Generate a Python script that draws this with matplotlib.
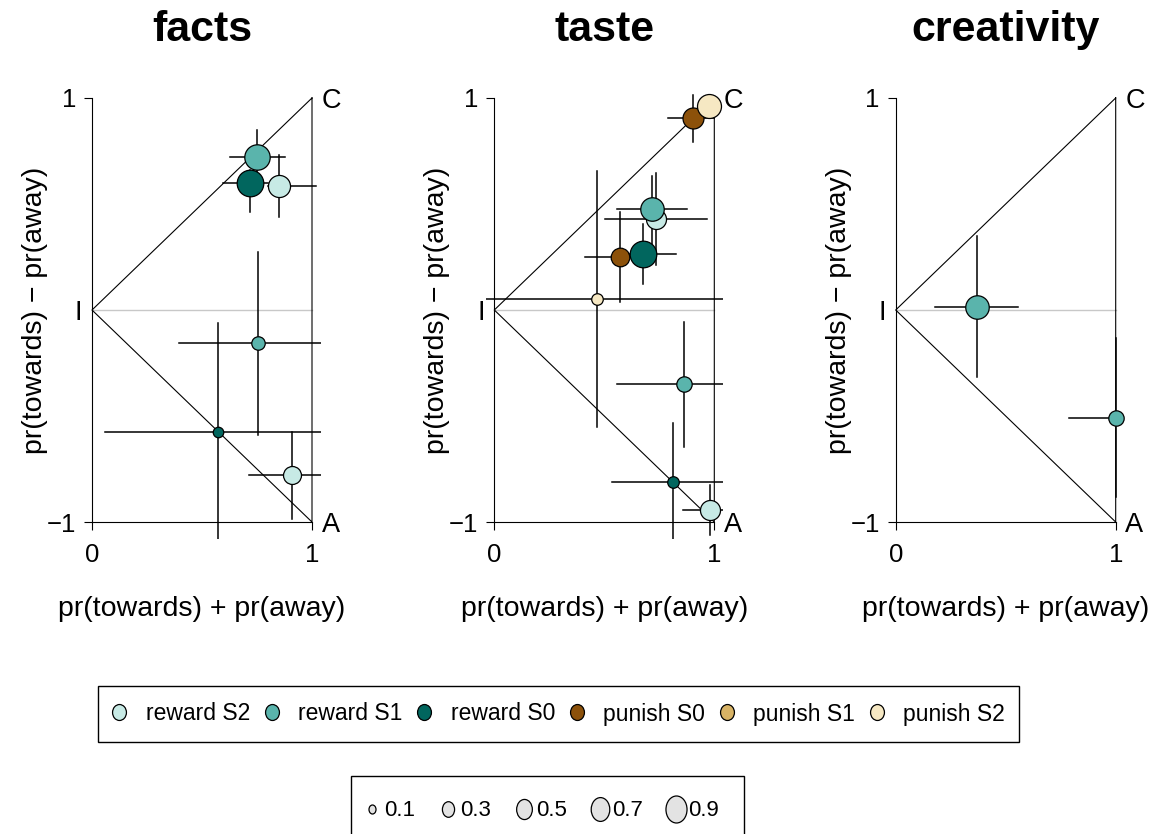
import numpy as np
import matplotlib.pyplot as plt
from matplotlib.lines import Line2D
from matplotlib.patches import Rectangle
from matplotlib.path import Path
from matplotlib.transforms import Affine2D

plt.rcParams['font.family'] = ['Liberation Sans', 'DejaVu Sans']

domains = ['facts', 'taste', 'creativity']
groups = ['reward S2', 'reward S1', 'reward S0', 'punish S0', 'punish S1', 'punish S2']
group_colors = ['#c7eae5', '#5ab4ac', '#01665e', '#8c510a', '#d8b365', '#f6e8c3']
size_levels = [0.1, 0.3, 0.5, 0.7, 0.9]

# one row per estimate: domain, group, x, y, x low/high, y low/high, weight
pt_domain = ['facts'] * 6 + ['taste'] * 10 + ['creativity'] * 2
pt_group = ['reward S1', 'reward S0', 'reward S2', 'reward S1', 'reward S0', 'reward S2',
            'reward S0', 'reward S1', 'reward S2', 'reward S0', 'reward S1', 'reward S2',
            'punish S0', 'punish S0', 'punish S2', 'punish S2',
            'reward S1', 'reward S1']
pt_x = [0.752, 0.718, 0.849, 0.755, 0.571, 0.910,
        0.674, 0.718, 0.736, 0.812, 0.861, 0.981,
        0.571, 0.905, 0.465, 0.978,
        0.368, 1.000]
pt_y = [0.720, 0.598, 0.585, -0.157, -0.574, -0.780,
        0.264, 0.475, 0.429, -0.813, -0.349, -0.943,
        0.251, 0.907, 0.052, 0.962,
        0.014, -0.511]
pt_xlo = [0.626, 0.597, 0.798, 0.394, 0.059, 0.714,
          0.550, 0.558, 0.503, 0.533, 0.558, 0.858,
          0.410, 0.790, -0.100, 0.950,
          0.178, 0.787]
pt_xhi = [0.877, 0.798, 1.018, 1.100, 1.100, 1.100,
          0.826, 0.877, 0.969, 1.100, 1.100, 1.100,
          0.700, 0.998, 1.100, 1.000,
          0.558, 1.020]
pt_ylo = [0.600, 0.464, 0.440, -0.590, -1.200, -0.987,
          0.123, 0.300, 0.212, -1.200, -0.645, -1.060,
          0.039, 0.794, -0.553, 0.930,
          -0.317, -0.880]
pt_yhi = [0.850, 0.660, 0.731, 0.275, -0.063, -0.574,
          0.406, 0.630, 0.645, -0.532, -0.055, -0.825,
          0.461, 1.014, 0.657, 1.000,
          0.349, -0.134]
pt_w = [0.82, 0.90, 0.62, 0.23, 0.14, 0.41,
        0.90, 0.70, 0.51, 0.17, 0.30, 0.51,
        0.44, 0.56, 0.17, 0.73,
        0.70, 0.30]

W, H = 1159, 834
fig = plt.figure(figsize=(W / 100, H / 100), dpi=100)

lefts = [83.2, 485.5, 886.9]
for k, dom in enumerate(domains):
    ax = fig.add_axes([lefts[k] / W, 1 - 539 / H, 237.6 / W, 458 / H])
    ax.set_xlim(-0.04, 1.04)
    ax.set_ylim(-1.08, 1.08)

    # triangle and the zero line
    ax.plot([0, 1], [0, 0], color='#c8c8c8', lw=1.0, zorder=1)
    ax.plot([1, 0, 1, 1], [1, 0, -1, 1], color='black', lw=0.8, zorder=1)

    idx = [i for i in range(len(pt_x)) if pt_domain[i] == dom]
    for i in idx:
        ax.plot([pt_xlo[i], pt_xhi[i]], [pt_y[i], pt_y[i]], color='black', lw=1.1, zorder=2)
        ax.plot([pt_x[i], pt_x[i]], [pt_ylo[i], pt_yhi[i]], color='black', lw=1.1, zorder=2)
    for g in groups:
        for i in idx:
            if pt_group[i] != g:
                continue
            ax.plot(pt_x[i], pt_y[i], 'o', ms=20.2 * np.sqrt(pt_w[i]),
                    mfc=group_colors[groups.index(g)], mec='black', mew=0.9,
                    zorder=3, clip_on=False)

    for s in ['top', 'right']:
        ax.spines[s].set_visible(False)
    ax.spines['left'].set_position(('data', 0))
    ax.spines['bottom'].set_position(('data', -1))
    ax.spines['left'].set_bounds(-1, 1)
    ax.spines['bottom'].set_bounds(0, 1)
    ax.spines['left'].set_linewidth(0.8)
    ax.spines['bottom'].set_linewidth(0.8)
    ax.set_xticks([0, 1])
    ax.set_xticklabels(['0', '1'])
    ax.set_yticks([-1, 1])
    ax.set_yticklabels(['\u22121', '1'])
    ax.tick_params(direction='out', length=5.5, width=0.8, labelsize=18.5)
    ax.tick_params(axis='y', pad=6)
    ax.tick_params(axis='x', pad=9.5)

    ax.annotate('C', (1, 1), xytext=(7, 0), textcoords='offset points',
                ha='left', va='center_baseline', fontsize=19.5)
    ax.annotate('A', (1, -1), xytext=(7, 0), textcoords='offset points',
                ha='left', va='center_baseline', fontsize=19.5)
    ax.annotate('I', (0, 0), xytext=(-7, 0), textcoords='offset points',
                ha='right', va='center_baseline', fontsize=19.5)

    ax.text(0.5, -0.152, 'pr(towards) + pr(away)', transform=ax.transAxes,
            ha='center', va='center', fontsize=20.5)
    ax.text(-0.203, 0.5, 'pr(towards) \u2212 pr(away)', transform=ax.transAxes,
            ha='center', va='center', rotation=90, fontsize=20.5)
    ax.text(0.5, 1.112, dom, transform=ax.transAxes, ha='center', va='center',
            fontsize=31, fontweight='bold')

# legend frames (drawn separately so the boxes get the reference size)
for (x0, y0, x1, y1) in [(98, 686, 1019, 742), (351, 776, 744, 846)]:
    fig.patches.append(Rectangle((x0 / W, 1 - y1 / H), (x1 - x0) / W, (y1 - y0) / H,
                                 transform=fig.transFigure, fill=False,
                                 edgecolor='black', lw=1.0))

# legend symbols are slightly squeezed ovals in the reference
oval1 = Path.unit_circle().transformed(Affine2D().scale(0.87, 1.0))
oval2 = Path.unit_circle().transformed(Affine2D().scale(0.78, 1.0))

# colour legend
h1 = [Line2D([], [], marker=oval1, ls='none', ms=11.5, mfc=c, mec='black', mew=0.9)
      for c in group_colors]
fig.legend(h1, groups, loc='center', bbox_to_anchor=(558.5 / W, 1 - 714 / H),
           ncol=6, fontsize=16.5, frameon=False, handlelength=0.66,
           handletextpad=0.83, columnspacing=0.61, borderpad=0)

# size legend
h2 = [Line2D([], [], marker=oval2, ls='none', ms=20.5 * np.sqrt(v), mfc='#e3e3e3',
             mec='black', mew=0.9) for v in size_levels]
fig.legend(h2, [str(v) for v in size_levels], loc='center',
           bbox_to_anchor=(540 / W, 1 - 811 / H), ncol=5, fontsize=16,
           frameon=False, handlelength=0.99, handletextpad=0.07,
           columnspacing=0.97, borderpad=0)

fig.savefig('out.png', dpi=100, facecolor='white')
